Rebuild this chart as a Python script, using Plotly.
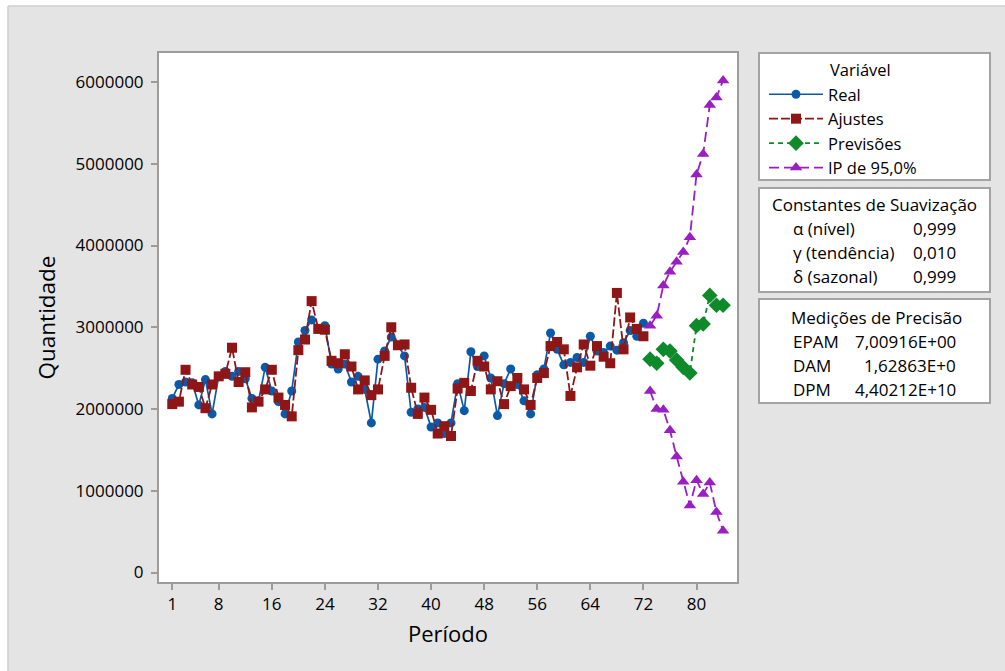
import plotly.graph_objects as go

# ---------------- data ----------------
periods_hist = list(range(1, 73))
real = [2.13, 2.30, 2.33, 2.32, 2.05, 2.36, 1.94, 2.40, 2.46, 2.40,
        2.46, 2.37, 2.13, 2.10, 2.51, 2.22, 2.09, 1.94, 2.22, 2.82,
        2.96, 3.09, 2.98, 3.02, 2.55, 2.49, 2.55, 2.33, 2.40, 2.24,
        1.83, 2.61, 2.71, 2.88, 2.78, 2.65, 1.96, 2.00, 2.02, 1.78,
        1.83, 1.70, 1.83, 2.31, 1.98, 2.70, 2.52, 2.65, 2.38, 1.92,
        2.31, 2.49, 2.30, 2.10, 1.94, 2.42, 2.49, 2.93, 2.73, 2.54,
        2.57, 2.63, 2.57, 2.89, 2.71, 2.69, 2.77, 2.72, 2.81, 2.96,
        2.89, 3.05]
ajustes = [2.06, 2.09, 2.48, 2.30, 2.27, 2.01, 2.30, 2.40, 2.43, 2.75,
           2.33, 2.45, 2.02, 2.09, 2.24, 2.48, 2.14, 2.05, 1.91, 2.72,
           2.85, 3.32, 2.98, 2.97, 2.59, 2.56, 2.67, 2.52, 2.24, 2.35,
           2.17, 2.24, 2.65, 3.00, 2.78, 2.79, 2.26, 1.94, 2.14, 1.99,
           1.70, 1.79, 1.67, 2.25, 2.32, 2.22, 2.59, 2.52, 2.24, 2.34,
           2.06, 2.28, 2.38, 2.24, 2.05, 2.38, 2.44, 2.77, 2.82, 2.73,
           2.16, 2.51, 2.79, 2.53, 2.77, 2.64, 2.56, 3.42, 2.73, 3.12,
           2.98, 2.89]
periods_fc = list(range(73, 85))
previsoes = [2.61, 2.56, 2.73, 2.71, 2.60, 2.51, 2.44, 3.02, 3.04, 3.39, 3.27, 3.27]
ip_sup = [3.02, 3.14, 3.51, 3.68, 3.80, 3.92, 4.10, 4.87, 5.12, 5.72, 5.81, 6.02]
ip_inf = [2.22, 2.00, 1.99, 1.74, 1.42, 1.11, 0.82, 1.13, 0.96, 1.10, 0.74, 0.51]

x_ticks = [1, 8, 16, 24, 32, 40, 48, 56, 64, 72, 80]
y_ticks = [0, 1000000, 2000000, 3000000, 4000000, 5000000, 6000000]

const_labels = ["α (nível)", "γ (tendência)", "δ (sazonal)"]
const_values = ["0,999", "0,010", "0,999"]
prec_labels = ["EPAM", "DAM", "DPM"]
prec_values = ["7,00916E+00", "1,62863E+0", "4,40212E+10"]

M = 1_000_000
real_v = [v * M for v in real]
ajustes_v = [v * M for v in ajustes]
prev_v = [v * M for v in previsoes]
sup_v = [v * M for v in ip_sup]
inf_v = [v * M for v in ip_inf]

# ---------------- styling ----------------
BLUE = "#0a5aa8"
RED = "#8f1616"
GREEN = "#0e8a2a"
PURPLE = "#9a1fc2"
FONT = "Open Sans"
TXT = "#000000"
W, H = 1005, 671
L, R, T, B = 159, 737, 53, 582   # plot area in pixels


def px2x(px):
    return (px - L) / (R - L)


def py2y(py):
    return (B - py) / (B - T)


fig = go.Figure()

fig.add_trace(go.Scatter(
    x=periods_hist, y=real_v, name="Real", mode="lines+markers",
    line=dict(color=BLUE, width=1.7),
    marker=dict(symbol="circle", size=9, color=BLUE)))
fig.add_trace(go.Scatter(
    x=periods_hist, y=ajustes_v, name="Ajustes", mode="lines+markers",
    line=dict(color=RED, width=1.8, dash="9px,3px"),
    marker=dict(symbol="square", size=10, color=RED)))
fig.add_trace(go.Scatter(
    x=periods_fc, y=prev_v, name="Previsões", mode="lines+markers",
    line=dict(color=GREEN, width=1.8, dash="5px,4px"),
    marker=dict(symbol="diamond", size=12, color=GREEN)))
fig.add_trace(go.Scatter(
    x=periods_fc, y=sup_v, name="IP de 95,0%", mode="lines+markers",
    legendgroup="ip",
    line=dict(color=PURPLE, width=1.8, dash="10px,5px"),
    marker=dict(symbol="triangle-up", size=11, color=PURPLE)))
fig.add_trace(go.Scatter(
    x=periods_fc, y=inf_v, name="IP de 95,0%", mode="lines+markers",
    legendgroup="ip", showlegend=False,
    line=dict(color=PURPLE, width=1.8, dash="10px,5px"),
    marker=dict(symbol="triangle-up", size=11, color=PURPLE)))

shapes = []
# white border strips outside the gray panel
shapes.append(dict(type="rect", xref="paper", yref="paper",
                   x0=px2x(-5), x1=px2x(8), y0=py2y(H + 5), y1=py2y(-5),
                   fillcolor="white", line=dict(width=0), layer="below"))
shapes.append(dict(type="rect", xref="paper", yref="paper",
                   x0=px2x(-5), x1=px2x(W + 5), y0=py2y(6), y1=py2y(-5),
                   fillcolor="white", line=dict(width=0), layer="below"))
shapes.append(dict(type="line", xref="paper", yref="paper",
                   x0=px2x(8), x1=px2x(8), y0=py2y(6), y1=py2y(H + 5),
                   line=dict(color="#cfcfcf", width=1.5)))
shapes.append(dict(type="line", xref="paper", yref="paper",
                   x0=px2x(8), x1=px2x(W + 5), y0=py2y(6), y1=py2y(6),
                   line=dict(color="#cfcfcf", width=1.5)))
# side boxes
for (y0, y1) in [(53, 180), (188, 292), (299, 403)]:
    shapes.append(dict(type="rect", xref="paper", yref="paper",
                       x0=px2x(759), x1=px2x(990), y0=py2y(y1), y1=py2y(y0),
                       fillcolor="white", line=dict(color="#a3a3a3", width=2),
                       layer="below"))

ann = []


def text(px, py, s, anchor="left", size=17):
    ann.append(dict(x=px2x(px), y=py2y(py), xref="paper", yref="paper",
                    text=s, showarrow=False, xanchor=anchor, yanchor="middle",
                    font=dict(family=FONT, size=size, color=TXT)))


text(828, 70, "Variável", size=16.5)
text(874, 205, "Constantes de Suavização", anchor="center")
for i, (lab, val) in enumerate(zip(const_labels, const_values)):
    text(791, 228 + 24 * i, lab)
    text(958, 228 + 24 * i, val, anchor="right")
text(876, 317, "Medições de Precisão", anchor="center")
for i, (lab, val) in enumerate(zip(prec_labels, prec_values)):
    text(791, 341 + 24 * i, lab)
    text(958, 341 + 24 * i, val, anchor="right")

axis_common = dict(showline=True, mirror=True, linecolor="#9c9c9c", linewidth=2,
                   showgrid=False, zeroline=False, ticks="outside", ticklen=6,
                   tickwidth=1.5, tickcolor="#9c9c9c",
                   tickfont=dict(family=FONT, size=17, color=TXT))

fig.update_layout(
    width=W, height=H,
    margin=dict(l=L, r=W - R, t=T, b=H - B, autoexpand=False),
    paper_bgcolor="#e4e4e4", plot_bgcolor="white",
    font=dict(family=FONT, size=16, color=TXT),
    xaxis=dict(range=[-1.0, 86.1], tickvals=x_ticks,
               ticktext=[str(t) for t in x_ticks],
               title=dict(text="Período", font=dict(family=FONT, size=22, color=TXT),
                          standoff=12),
               automargin=False, **axis_common),
    yaxis=dict(range=[-116000, 6355000], tickvals=y_ticks,
               ticktext=[str(t) for t in y_ticks],
               ticklabelstandoff=4,
               title=dict(text="Quantidade", font=dict(family=FONT, size=22.5, color=TXT),
                          standoff=14),
               automargin=False, **axis_common),
    legend=dict(x=px2x(764), y=py2y(77), xanchor="left", yanchor="top",
                bgcolor="rgba(0,0,0,0)", borderwidth=0, itemwidth=54,
                font=dict(family=FONT, size=16.5, color=TXT),
                tracegroupgap=0),
    shapes=shapes, annotations=ann,
)

fig.write_html("out.html", config={"displayModeBar": False},
               post_script="document.body.style.margin='0';")
